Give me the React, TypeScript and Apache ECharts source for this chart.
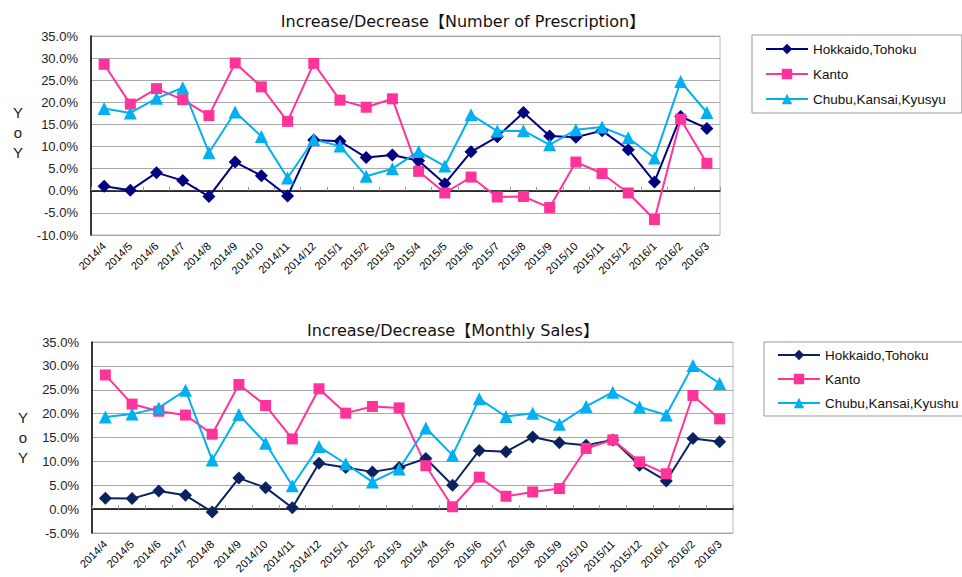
import React, { useEffect, useRef } from "react";
import * as echarts from "echarts";

const months = [
  "2014/4", "2014/5", "2014/6", "2014/7", "2014/8", "2014/9", "2014/10", "2014/11", "2014/12",
  "2015/1", "2015/2", "2015/3", "2015/4", "2015/5", "2015/6", "2015/7", "2015/8", "2015/9",
  "2015/10", "2015/11", "2015/12", "2016/1", "2016/2", "2016/3",
];

// Top chart: Number of Prescription (YoY %)
const rxHokkaido = [1.0, 0.1, 4.1, 2.3, -1.3, 6.5, 3.4, -1.2, 11.5, 11.2, 7.5, 8.1, 6.8, 1.6, 8.8, 12.2, 17.7, 12.4, 12.1, 13.6, 9.3, 2.0, 16.8, 14.1];
const rxKanto = [28.6, 19.6, 23.1, 20.6, 17.0, 28.9, 23.5, 15.7, 28.8, 20.5, 18.9, 20.8, 4.4, -0.5, 3.1, -1.4, -1.3, -3.8, 6.5, 3.9, -0.5, -6.5, 16.2, 6.2];
const rxChubu = [18.6, 17.6, 20.9, 23.3, 8.6, 17.8, 12.3, 2.9, 11.6, 10.1, 3.3, 5.0, 8.9, 5.6, 17.2, 13.5, 13.6, 10.4, 13.8, 14.4, 12.0, 7.4, 24.7, 17.7];

// Bottom chart: Monthly Sales (YoY %)
const salesHokkaido = [2.3, 2.2, 3.8, 2.9, -0.6, 6.5, 4.5, 0.3, 9.6, 8.7, 7.8, 8.7, 10.6, 5.0, 12.3, 12.0, 15.1, 13.9, 13.4, 14.5, 9.2, 5.9, 14.8, 14.1];
const salesKanto = [28.1, 22.0, 20.5, 19.7, 15.7, 26.1, 21.7, 14.7, 25.2, 20.1, 21.5, 21.2, 9.1, 0.5, 6.7, 2.7, 3.6, 4.3, 12.7, 14.5, 9.9, 7.4, 23.8, 18.9];
const salesChubu = [19.3, 19.9, 21.2, 24.9, 10.3, 19.8, 13.8, 4.9, 13.1, 9.5, 5.7, 8.4, 17.0, 11.3, 23.1, 19.4, 20.1, 17.8, 21.5, 24.5, 21.4, 19.7, 30.1, 26.3];

const topTitle = "Increase/Decrease【Number of Prescription】";
const bottomTitle = "Increase/Decrease【Monthly Sales】";
const topNames = ["Hokkaido,Tohoku", "Kanto", "Chubu,Kansai,Kyusyu"];
const bottomNames = ["Hokkaido,Tohoku", "Kanto", "Chubu,Kansai,Kyushu"];

const NAVY = "#000080";
const NAVY2 = "#0B2260";
const PINK = "#FF3399";
const CYAN = "#00B0F0";

export default function App() {
  const ref = useRef<HTMLDivElement>(null);
  useEffect(() => {
    document.body.style.margin = "0";
    const chart = echarts.init(ref.current!, null, { renderer: "svg" });
    const labelFont = "'Liberation Sans', Arial, sans-serif";
    const titleFont = "'DejaVu Sans', 'Noto Sans CJK JP', sans-serif";

    const xAxisBase = (gridIndex: number) => ({
      type: "category",
      gridIndex,
      data: months,
      boundaryGap: true,
      axisLine: { show: true, lineStyle: { color: "#000", width: 1.5 } },
      axisTick: { show: true, inside: true, length: 4, lineStyle: { color: "#999" }, alignWithLabel: false },
      axisLabel: {
        rotate: 45,
        interval: 0,
        fontSize: 11,
        color: "#000",
        fontFamily: labelFont,
        margin: 9,
      },
      splitLine: { show: false },
    });
    const yAxisBase = (gridIndex: number, min: number) => ({
      type: "value",
      gridIndex,
      min,
      max: 35,
      interval: 5,
      axisLine: { show: true, lineStyle: { color: "#000", width: 1.5 } },
      axisTick: { show: false },
      axisLabel: {
        fontSize: 13,
        color: "#222",
        fontFamily: labelFont,
        margin: 13,
        formatter: (v: number) => v.toFixed(1) + "%",
      },
      splitLine: { show: true, lineStyle: { color: "#A8A8A8", width: 1 } },
    });

    const mk = (name: string, data: number[], color: string, symbol: string, size: number, idx: number) => ({
      type: "line",
      name,
      data,
      xAxisIndex: idx,
      yAxisIndex: idx,
      symbol,
      symbolSize: size,
      lineStyle: { color, width: 2 },
      itemStyle: { color },
      z: 2,
    });

    const yoy = (x: number, y: number) => [
      { type: "text", x, y, style: { text: "Y", font: "15px " + labelFont, fill: "#222", align: "center", verticalAlign: "middle" } },
      { type: "text", x, y: y + 20, style: { text: "o", font: "15px " + labelFont, fill: "#222", align: "center", verticalAlign: "middle" } },
      { type: "text", x, y: y + 40, style: { text: "Y", font: "15px " + labelFont, fill: "#222", align: "center", verticalAlign: "middle" } },
    ];

    chart.setOption({
      animation: false,
      backgroundColor: "#fff",
      title: [
        { text: topTitle, left: 458, top: 8, textAlign: "center", textStyle: { fontSize: 16, fontWeight: "normal", color: "#111", fontFamily: titleFont } },
        { text: bottomTitle, left: 448, top: 317, textAlign: "center", textStyle: { fontSize: 16, fontWeight: "normal", color: "#111", fontFamily: titleFont } },
      ],
      grid: [
        { left: 91, top: 36, width: 629, height: 199, show: true, borderColor: "#B8B8B8", borderWidth: 1, backgroundColor: "transparent" },
        { left: 92, top: 342, width: 641, height: 191, show: true, borderColor: "#B8B8B8", borderWidth: 1, backgroundColor: "transparent" },
      ],
      legend: [
        {
          orient: "vertical",
          left: 752,
          top: 35,
          padding: [7, 16, 7, 13],
          itemGap: 11,
          itemWidth: 42,
          itemHeight: 13,
          borderColor: "#999",
          borderWidth: 1,
          textStyle: { fontSize: 13.5, color: "#111", fontFamily: labelFont },
          data: [
            { name: topNames[0], itemStyle: { color: NAVY }, lineStyle: { color: NAVY } },
            { name: topNames[1], itemStyle: { color: PINK }, lineStyle: { color: PINK } },
            { name: topNames[2], itemStyle: { color: CYAN }, lineStyle: { color: CYAN } },
          ],
          selectedMode: false,
        },
        {
          orient: "vertical",
          left: 764,
          top: 342,
          padding: [6, 6, 6, 13],
          itemGap: 10,
          itemWidth: 42,
          itemHeight: 13,
          borderColor: "#999",
          borderWidth: 1,
          textStyle: { fontSize: 13.5, color: "#111", fontFamily: labelFont },
          data: [
            { name: bottomNames[0], itemStyle: { color: NAVY2 }, lineStyle: { color: NAVY2 } },
            { name: bottomNames[1], itemStyle: { color: PINK }, lineStyle: { color: PINK } },
            { name: bottomNames[2], itemStyle: { color: CYAN }, lineStyle: { color: CYAN } },
          ],
          selectedMode: false,
        },
      ],
      xAxis: [xAxisBase(0), xAxisBase(1)],
      yAxis: [yAxisBase(0, -10), yAxisBase(1, -5)],
      series: [
        mk(topNames[0], rxHokkaido, NAVY, "diamond", 13, 0),
        mk(topNames[1], rxKanto, PINK, "rect", 11, 0),
        mk(topNames[2], rxChubu, CYAN, "triangle", 13, 0),
        mk(bottomNames[0], salesHokkaido, NAVY2, "diamond", 13, 1),
        mk(bottomNames[1], salesKanto, PINK, "rect", 11, 1),
        mk(bottomNames[2], salesChubu, CYAN, "triangle", 13, 1),
      ],
      graphic: [...yoy(18, 112), ...yoy(23, 417)],
    });
    return () => chart.dispose();
  }, []);
  return <div ref={ref} style={{ width: 962, height: 577 }} />;
}
